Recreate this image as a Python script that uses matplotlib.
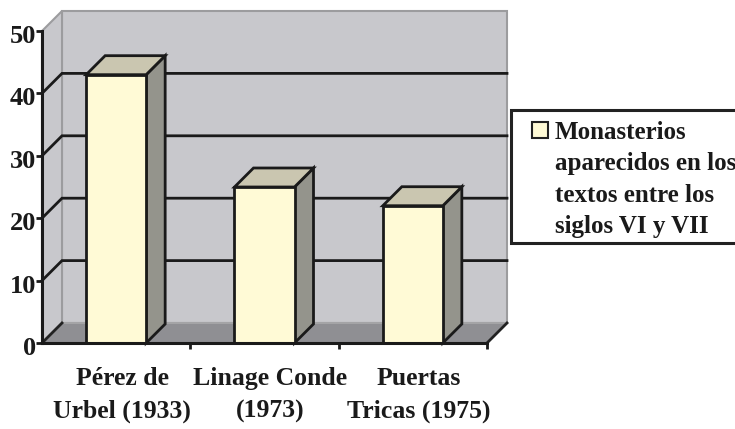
import matplotlib
matplotlib.use("Agg")
import matplotlib.pyplot as plt
from matplotlib.patches import Polygon, Rectangle
from matplotlib.transforms import ScaledTranslation

# data
categories = ["Pérez de\nUrbel (1933)", "Linage Conde\n(1973)", "Puertas\nTricas (1975)"]
values = [43, 25, 22]
y_ticks = [0, 10, 20, 30, 40, 50]
legend_lines = ["Monasterios", "aparecidos en los", "textos entre los", "siglos VI y VII"]

FONT = "Liberation Serif"
WALL = "#c8c8cc"
FLOOR = "#8f8f93"
EDGE_GRAY = "#9c9c9e"
BAR_FRONT = "#fffad6"
BAR_TOP = "#cac6b0"
BAR_SIDE = "#94948c"

W, H, DPI = 735, 429, 100
fig = plt.figure(figsize=(W / DPI, H / DPI), dpi=DPI)
fig.patch.set_facecolor("white")

# front plane of the 3d box, in pixels: x 42..487, y(0)=343, y(50)=31
ax = fig.add_axes([42 / W, (H - 343) / H, 445 / W, 312 / H])
ax.set_xlim(0, 3)
ax.set_ylim(0, 50)
ax.set_facecolor("none")

px_x = 445 / 3     # pixels per category
px_y = 312 / 50    # pixels per unit
dx, dy = 20 / px_x, 20 / px_y          # wall depth
bdx, bdy = 19 / px_x, 19 / px_y        # bar depth
ymax = 50
n = len(values)

# walls and floor
ax.add_patch(Polygon([(dx, dy), (n + dx, dy), (n + dx, ymax + dy), (dx, ymax + dy)],
                     closed=True, facecolor=WALL, edgecolor=EDGE_GRAY, lw=1.5,
                     clip_on=False, zorder=1))
ax.add_patch(Polygon([(0, 0), (dx, dy), (dx, ymax + dy), (0, ymax)],
                     closed=True, facecolor=WALL, edgecolor=EDGE_GRAY, lw=1.5,
                     clip_on=False, zorder=1))
ax.add_patch(Polygon([(0, 0), (n, 0), (n + dx, dy), (dx, dy)],
                     closed=True, facecolor=FLOOR, edgecolor="none",
                     clip_on=False, zorder=2))
ax.plot([dx, n + dx], [dy, dy], color="#a4a4a6", lw=1.5, clip_on=False, zorder=2)
ax.plot([0, dx], [0, dy], color="#222222", lw=2, clip_on=False, zorder=3)
ax.plot([n, n + dx], [0, dy], color="#222222", lw=2, clip_on=False, zorder=3)

# gridlines on left and back walls
for v in y_ticks[1:-1]:
    ax.plot([0, dx, n + dx], [v, v + dy, v + dy], color="#1a1a1a", lw=2,
            clip_on=False, zorder=3, solid_joinstyle="miter")

# 3d bars
bw = 60 / px_x
for i, v in enumerate(values):
    x0 = i + 0.5 - bw / 2
    side = [(x0 + bw, 0), (x0 + bw + bdx, bdy), (x0 + bw + bdx, v + bdy), (x0 + bw, v)]
    top = [(x0, v), (x0 + bw, v), (x0 + bw + bdx, v + bdy), (x0 + bdx, v + bdy)]
    kw = dict(edgecolor="#1a1a1a", lw=2, joinstyle="miter", clip_on=False, zorder=4)
    ax.add_patch(Polygon(side, closed=True, facecolor=BAR_SIDE, **kw))
    ax.add_patch(Polygon(top, closed=True, facecolor=BAR_TOP, **kw))
    ax.add_patch(Rectangle((x0, 0), bw, v, facecolor=BAR_FRONT, **kw))

# axes lines and ticks
for s in ["top", "right"]:
    ax.spines[s].set_visible(False)
for s in ["left", "bottom"]:
    ax.spines[s].set_linewidth(2.2)
    ax.spines[s].set_color("#1a1a1a")
    ax.spines[s].set_zorder(5)

ax.set_yticks(y_ticks)
ax.set_yticklabels([str(t) for t in y_ticks], fontfamily=FONT, fontweight="bold",
                   fontsize=19, color="#1a1a1a")
ax.tick_params(axis="y", length=4, width=2, pad=0, color="#1a1a1a")

ax.set_xticks([i + 0.5 for i in range(n)])
ax.set_xticklabels(categories, fontfamily=FONT, fontweight="bold", fontsize=18.5,
                   color="#1a1a1a", linespacing=1.58)
ax.set_xticks(range(1, n + 1), minor=True)
ax.tick_params(axis="x", which="major", length=0, pad=17)
ax.tick_params(axis="x", which="minor", length=4, width=2, color="#1a1a1a")
shift = ScaledTranslation(6 / DPI, 0, fig.dpi_scale_trans)
for lab in ax.get_xticklabels():
    lab.set_transform(lab.get_transform() + shift)
shift_y = ScaledTranslation(0, -3 / DPI, fig.dpi_scale_trans)
for lab in ax.get_yticklabels():
    lab.set_transform(lab.get_transform() + shift_y)

# legend box (runs off the right edge as in the original)
fig.patches.append(Rectangle((511 / W, (H - 243) / H), 240 / W, 133 / H,
                             transform=fig.transFigure, facecolor="white",
                             edgecolor="#222222", lw=2.2))
fig.patches.append(Rectangle((532 / W, (H - 138) / H), 16 / W, 16 / H,
                             transform=fig.transFigure, facecolor=BAR_FRONT,
                             edgecolor="#222222", lw=1.5))
for k, line in enumerate(legend_lines):
    fig.text(555 / W, (H - (139 + 31.3 * k)) / H, line, fontfamily=FONT,
             fontweight="bold", fontsize=18, color="#1a1a1a", va="baseline", ha="left")

fig.savefig("out.png", dpi=DPI)
